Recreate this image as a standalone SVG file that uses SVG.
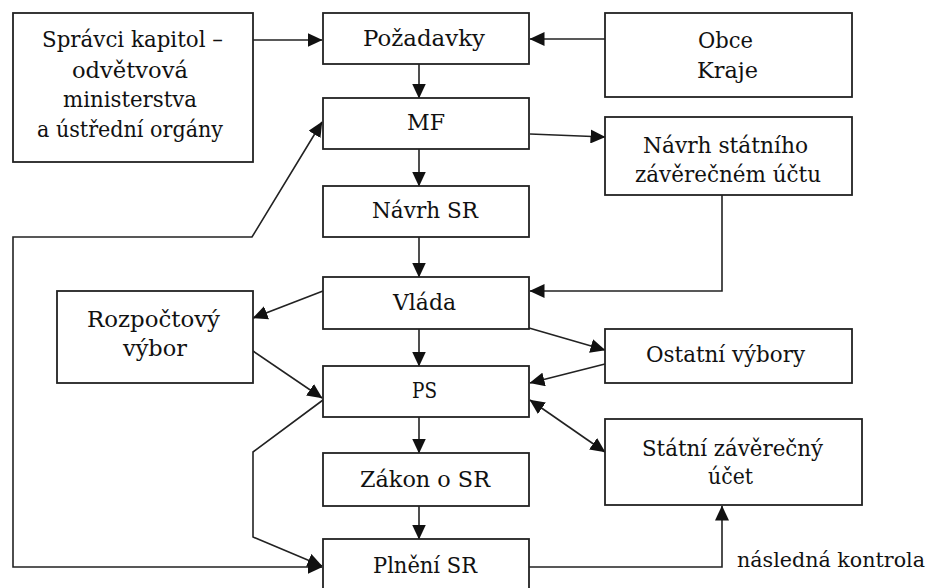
<svg xmlns="http://www.w3.org/2000/svg" width="933" height="588" viewBox="0 0 933 588">
<style>
.box{fill:#fff;stroke:#222;stroke-width:1.8}
.t{font-family:"DejaVu Serif","Liberation Serif",serif;font-size:22px;fill:#111;text-anchor:middle}
.c{fill:none;stroke:#222;stroke-width:1.6}
</style>
<defs>
<marker id="ah" markerUnits="userSpaceOnUse" markerWidth="15" markerHeight="14" viewBox="0 0 15 14" refX="14.5" refY="7" orient="auto-start-reverse">
<path d="M0,0 L15,7 L0,14 z" fill="#111"/>
</marker>
</defs>
<rect width="933" height="588" fill="#fff"/>
<g id="connectors">
<path class="c" d="M253,40 L322,40" marker-end="url(#ah)"/>
<path class="c" d="M605,39 L530,39" marker-end="url(#ah)"/>
<path class="c" d="M419,64 L419,98" marker-end="url(#ah)"/>
<path class="c" d="M419,149 L419,186" marker-end="url(#ah)"/>
<path class="c" d="M530,134 L605,137" marker-end="url(#ah)"/>
<path class="c" d="M419,237 L419,277" marker-end="url(#ah)"/>
<path class="c" d="M722,195 L722,291 L530,291" marker-end="url(#ah)"/>
<path class="c" d="M323,291 L253,318" marker-end="url(#ah)"/>
<path class="c" d="M419,329 L419,366" marker-end="url(#ah)"/>
<path class="c" d="M529,328 L605,350" marker-end="url(#ah)"/>
<path class="c" d="M605,364 L530,383" marker-end="url(#ah)"/>
<path class="c" d="M253,351 L322,398" marker-end="url(#ah)"/>
<path class="c" d="M530,400 L605,452" marker-start="url(#ah)" marker-end="url(#ah)"/>
<path class="c" d="M419,417 L419,453" marker-end="url(#ah)"/>
<path class="c" d="M419,506 L419,539" marker-end="url(#ah)"/>
<path class="c" d="M323,400 L253,452 L253,537 L322,566" marker-end="url(#ah)"/>
<path class="c" d="M322,122 L252,237 L13,237 L13,567 L322,567" marker-start="url(#ah)" marker-end="url(#ah)"/>
<path class="c" d="M529,567 L722,567 L722,506" marker-end="url(#ah)"/>
</g>
<g id="spravci"><rect class="box" x="13" y="13" width="240" height="149"/>
<text class="t" x="132.5" y="47" textLength="181" lengthAdjust="spacingAndGlyphs">Správci kapitol –</text>
<text class="t" x="130" y="78" textLength="116" lengthAdjust="spacingAndGlyphs">odvětvová</text>
<text class="t" x="130" y="107" textLength="134" lengthAdjust="spacingAndGlyphs">ministerstva</text>
<text class="t" x="130" y="137" textLength="186" lengthAdjust="spacingAndGlyphs">a ústřední orgány</text></g>
<g id="pozadavky"><rect class="box" x="323" y="13" width="206" height="51"/>
<text class="t" x="424" y="46" textLength="122" lengthAdjust="spacingAndGlyphs">Požadavky</text></g>
<g id="obce"><rect class="box" x="605" y="13" width="247" height="84"/>
<text class="t" x="725.5" y="48" textLength="55" lengthAdjust="spacingAndGlyphs">Obce</text>
<text class="t" x="727.5" y="78" textLength="61" lengthAdjust="spacingAndGlyphs">Kraje</text></g>
<g id="mf"><rect class="box" x="323" y="98" width="206" height="51"/>
<text class="t" x="426" y="130" textLength="38" lengthAdjust="spacingAndGlyphs">MF</text></g>
<g id="navrh-szu"><rect class="box" x="605" y="117" width="247" height="78"/>
<text class="t" x="725.5" y="153" textLength="165" lengthAdjust="spacingAndGlyphs">Návrh státního</text>
<text class="t" x="728" y="182" textLength="186" lengthAdjust="spacingAndGlyphs">závěrečném účtu</text></g>
<g id="navrh-sr"><rect class="box" x="323" y="186" width="206" height="51"/>
<text class="t" x="425" y="218" textLength="106" lengthAdjust="spacingAndGlyphs">Návrh SR</text></g>
<g id="vlada"><rect class="box" x="323" y="277" width="206" height="52"/>
<text class="t" x="424.5" y="310" textLength="63" lengthAdjust="spacingAndGlyphs">Vláda</text></g>
<g id="rozpoctovy"><rect class="box" x="57" y="291" width="196" height="92"/>
<text class="t" x="153.5" y="327" textLength="133" lengthAdjust="spacingAndGlyphs">Rozpočtový</text>
<text class="t" x="155" y="356" textLength="64" lengthAdjust="spacingAndGlyphs">výbor</text></g>
<g id="ostatni"><rect class="box" x="605" y="329" width="247" height="54"/>
<text class="t" x="725.5" y="362" textLength="159" lengthAdjust="spacingAndGlyphs">Ostatní výbory</text></g>
<g id="ps"><rect class="box" x="323" y="366" width="206" height="51"/>
<text class="t" x="424.5" y="398" textLength="25" lengthAdjust="spacingAndGlyphs">PS</text></g>
<g id="statni"><rect class="box" x="605" y="419" width="257" height="86"/>
<text class="t" x="732.5" y="456" textLength="181" lengthAdjust="spacingAndGlyphs">Státní závěrečný</text>
<text class="t" x="730.5" y="484" textLength="45" lengthAdjust="spacingAndGlyphs">účet</text></g>
<g id="zakon"><rect class="box" x="323" y="453" width="206" height="53"/>
<text class="t" x="425" y="487" textLength="130" lengthAdjust="spacingAndGlyphs">Zákon o SR</text></g>
<g id="plneni"><rect class="box" x="323" y="539" width="206" height="60"/>
<text class="t" x="425" y="573" textLength="104" lengthAdjust="spacingAndGlyphs">Plnění SR</text></g>
<g id="label-kontrola"><text class="t" x="831" y="567" style="font-size:20px" textLength="188" lengthAdjust="spacingAndGlyphs">následná kontrola</text></g>
</svg>
